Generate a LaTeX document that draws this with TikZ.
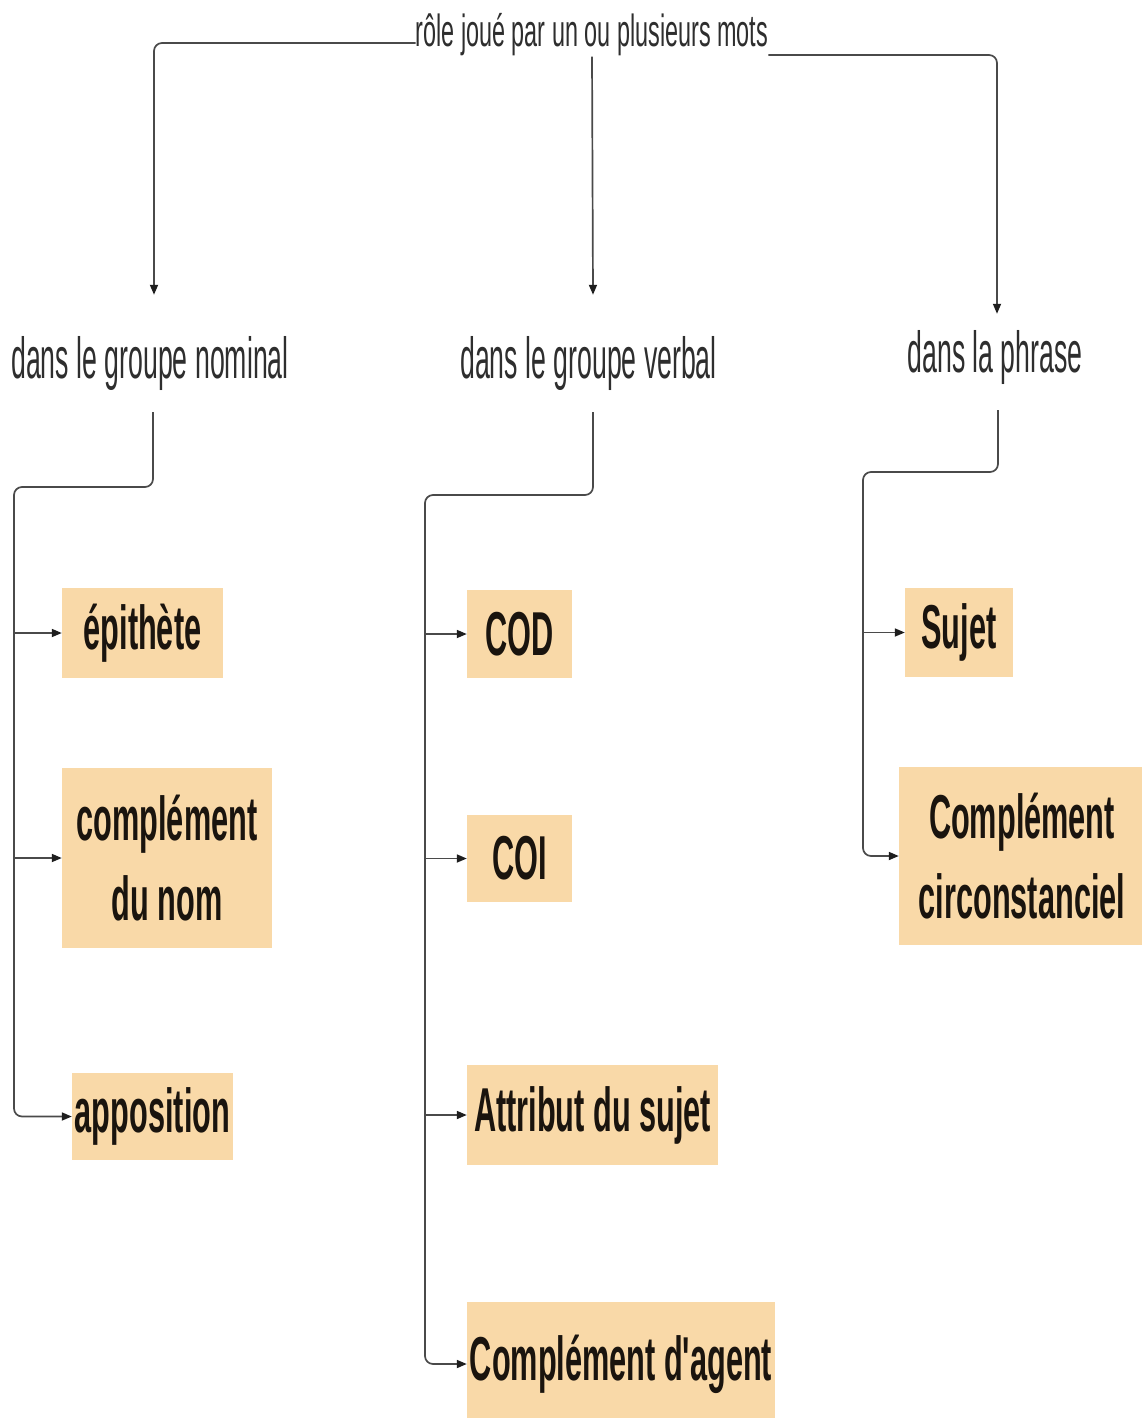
\documentclass[tikz,border=0pt]{standalone}
\usepackage{fontspec}
\setmainfont{Liberation Sans}
\newfontfamily\boxfont{Liberation Sans}[FakeStretch=0.495]
\newfontfamily\labfont{Liberation Sans}[FakeStretch=0.46]
\newfontfamily\topfont{Liberation Sans}[FakeStretch=0.52]
\usetikzlibrary{arrows.meta}
\definecolor{boxfill}{HTML}{F9D9A8}
\definecolor{txtc}{HTML}{1A140E}
\definecolor{labc}{HTML}{2E2E2E}
\definecolor{linec}{HTML}{4A4A4A}
\definecolor{tipc}{HTML}{1E1E1E}
\begin{document}
\begin{tikzpicture}[x=1pt,y=-1pt,
  fbox/.style={fill=boxfill, inner sep=0pt, text=txtc, align=center,
    font=\boxfont\bfseries\fontsize{62}{80}\selectfont},
  lab/.style={inner sep=0pt, text=labc, font=\labfont\fontsize{58}{70}\selectfont},
  toplab/.style={inner sep=0pt, text=labc, font=\topfont\fontsize{45}{54}\selectfont},
  conn/.style={draw=linec, line width=1.7pt, rounded corners=8pt},
  arr/.style={conn, -{Triangle[length=10pt,width=8pt,color=tipc]}}]
\useasboundingbox (0,0) rectangle (1142,1418);
\fill[white] (0,0) rectangle (1142,1418);

% top text
\node[toplab, anchor=base] (top) at (592,47) {rôle joué par un ou plusieurs mots};

% labels
\node[lab, anchor=base] (l1) at (150,378) {dans le groupe nominal};
\node[lab, anchor=base] (l2) at (588.5,378) {dans le groupe verbal};
\node[lab, anchor=base] (l3) at (995,372) {dans la phrase};

% boxes
\node[fbox, minimum width=161pt, minimum height=90pt] (b11) at (142.5,633) {épithète};
\node[fbox, minimum width=210pt, minimum height=180pt] (b12) at (167,858) {complément\\du nom};
\node[fbox, minimum width=161pt, minimum height=87pt] (b13) at (152.5,1116.5) {apposition};

\node[fbox, minimum width=105pt, minimum height=88pt] (b21) at (519.5,634) {COD};
\node[fbox, minimum width=105pt, minimum height=87pt] (b22) at (519.5,858.5) {COI};
\node[fbox, minimum width=251pt, minimum height=100pt] (b23) at (592.5,1115) {Attribut du sujet};
\node[fbox, minimum width=308pt, minimum height=124pt] (b24) at (621,1364) {Complément d'agent};

\node[fbox, minimum width=108pt, minimum height=89pt] (b31) at (959,632.5) {Sujet};
\node[fbox, minimum width=246pt, minimum height=178pt] (b32) at (1022,856) {Complément\\circonstanciel};

% trunk corners
\coordinate (k1) at (14,487);
\coordinate (k2) at (425,495);
\coordinate (k3) at (863,472);

% top connectors
\draw[arr] ([yshift=4pt]top.base west) -| ([xshift=4pt,yshift=41pt]l1.north);
\draw[arr] (top.south) -- ([xshift=4.5pt,yshift=41pt]l2.north);
\draw[arr] ([yshift=-8pt]top.base east) -| ([xshift=2pt,yshift=16pt]l3.north);

% left group
\draw[arr] ([xshift=3pt,yshift=-22pt]l1.south) |- (k1) |- (b13.west);
\draw[arr, rounded corners=0pt] (k1 |- b11.west) -- (b11.west);
\draw[arr, rounded corners=0pt] (k1 |- b12.west) -- (b12.west);

% middle group
\draw[arr] ([xshift=4.5pt,yshift=-22pt]l2.south) |- (k2) |- (b24.west);
\draw[arr, rounded corners=0pt] (k2 |- b21.west) -- (b21.west);
\draw[arr, rounded corners=0pt] (k2 |- b22.west) -- (b22.west);
\draw[arr, rounded corners=0pt] (k2 |- b23.west) -- (b23.west);

% right group
\draw[arr] ([xshift=3pt,yshift=-26pt]l3.south) |- (k3) |- (b32.west);
\draw[arr, rounded corners=0pt] (k3 |- b31.west) -- (b31.west);
\end{tikzpicture}
\end{document}
